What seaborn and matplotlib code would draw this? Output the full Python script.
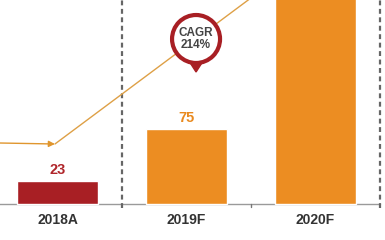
import matplotlib
matplotlib.use("Agg")
import matplotlib.pyplot as plt
import seaborn as sns
import pandas as pd
from matplotlib.patches import Ellipse, Polygon

categories = ["2018A", "2019F", "2020F"]
values = [23, 75, 227]
value_labels = ["23", "75", ""]
bar_colors = ["#a81f24", "#ec8d22", "#ec8d22"]
label_colors = ["#b0262b", "#e98a1f", "#e98a1f"]
cagr_text = "CAGR\n214%"
trend_x = [-0.45, -0.02, 1.52]
trend_y = [61, 60, 208]

sns.set_theme(style="white")
plt.rcParams['font.family'] = ['Liberation Sans', 'DejaVu Sans']

fig = plt.figure(figsize=(3.85, 2.4), dpi=100)
ax = fig.add_axes([0, 0, 1, 1])

df = pd.DataFrame({"cat": categories, "val": values})
sns.barplot(data=df, x="cat", y="val", hue="cat", palette=bar_colors,
            width=0.63, legend=False, ax=ax, zorder=2, saturation=1)

ax.set_xlim(-0.446, 2.539)
ax.set_ylim(-36, 204)
ax.axis("off")

# baseline
ax.plot([-0.45, 2.5], [0, 0], color="#9a9a9a", lw=1.0, zorder=1)
ax.plot([1.5, 1.5], [0, -3], color="#777777", lw=1.0, zorder=1)
# dashed separators
for xs in [0.5, 2.5]:
    ax.plot([xs, xs], [-4, 204], color="#666666", lw=1.6,
            linestyle=(0, (2.2, 1.6)), zorder=3)

# trend line
ax.plot(trend_x[1:], trend_y[1:], color="#dea046", lw=1.0, zorder=3)
ax.annotate("", xy=(trend_x[1], trend_y[1]), xytext=(trend_x[0], trend_y[0]),
            arrowprops=dict(arrowstyle="-|>", color="#e0962e", lw=1.0,
                            mutation_scale=9, shrinkA=0, shrinkB=0), zorder=3)

# value labels
for i, (v, lab) in enumerate(zip(values, value_labels)):
    if lab:
        ax.text(i, v + 4, lab, ha="center", va="bottom", fontsize=10.5,
                fontweight="bold", color=label_colors[i], zorder=4)

# category labels
for i, c in enumerate(categories):
    ax.text(i, -16, c, ha="center", va="center", fontsize=10,
            fontweight="bold", color="#333333", zorder=4)

# CAGR pin
cx, cy = 1.074, 165
pin = Polygon([[cx - 0.05, 142], [cx + 0.05, 142], [cx, 132]], closed=True,
              facecolor="#a81f24", edgecolor="#a81f24", zorder=5)
ax.add_patch(pin)
circ = Ellipse((cx, cy), width=48 / 129, height=48, facecolor="white",
               edgecolor="#a81f24", lw=3.0, zorder=6)
ax.add_patch(circ)
ax.text(cx, cy, cagr_text, ha="center", va="center", fontsize=8.5,
        fontweight="bold", color="#444444", zorder=7, linespacing=1.1)

fig.savefig("out.png", dpi=100)
